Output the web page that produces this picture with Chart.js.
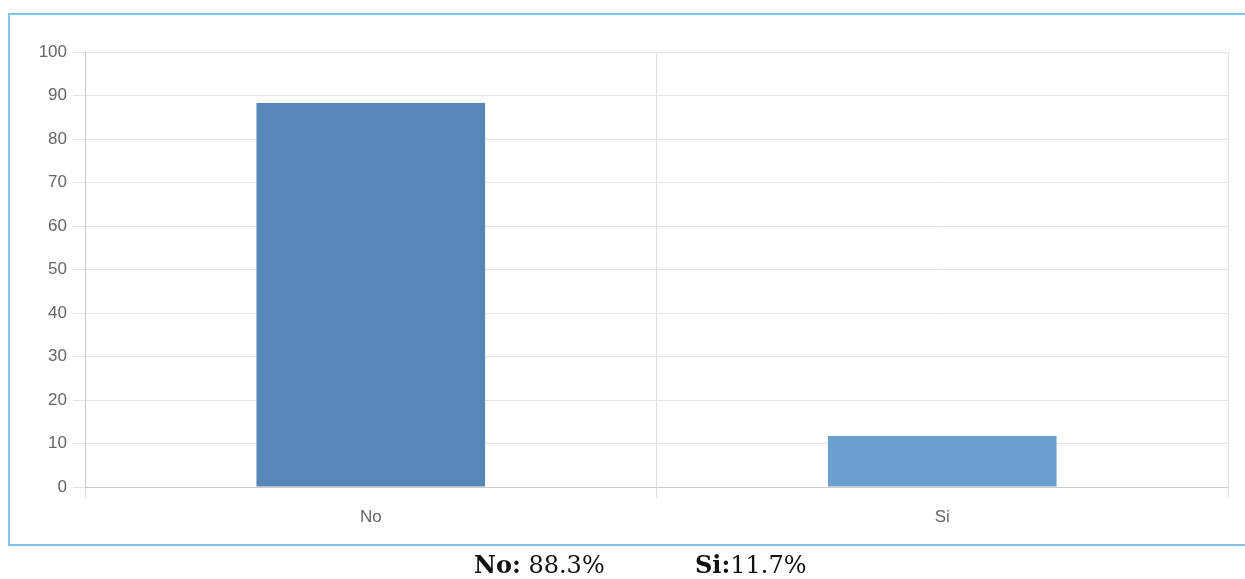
<!DOCTYPE html>
<html>
<head>
<meta charset="utf-8">
<script src="https://cdn.jsdelivr.net/npm/chart.js@4"></script>
<style>
    body { margin: 0; background: #fff; width: 1245px; height: 579px; overflow: hidden; position: relative; }
    .frame { position: absolute; left: 8px; top: 13px; width: 1260px; height: 529px; border: 2px solid #7fc5e6; }
    #chart { position: absolute; left: 0; top: 0; }
    .summary { position: absolute; top: 550px; font-family: 'DejaVu Serif', serif; font-size: 24px; color: #111; white-space: nowrap; }
    .summary b { font-weight: bold; }
</style>
</head>
<body>
<div class="frame"></div>
<canvas id="chart" width="1245" height="579"></canvas>
<div class="summary" style="left: 474px;"><b>No:</b> 88.3%</div>
<div class="summary" style="left: 695px;"><b>Si:</b>11.7%</div>
<script>
const categories = ['No', 'Si'];
const values = [88.3, 11.7];
const barColors = ['#5787b8', '#6ba0d0'];
const yTicks = [0, 10, 20, 30, 40, 50, 60, 70, 80, 90, 100];

document.addEventListener('DOMContentLoaded', function() {
    const ctx = document.getElementById('chart').getContext('2d');
    new Chart(ctx, {
        type: 'bar',
        data: {
            labels: categories,
            datasets: [{
                data: values,
                backgroundColor: barColors,
                borderColor: barColors,
                borderWidth: 0,
                categoryPercentage: 1,
                barPercentage: 0.4
            }]
        },
        options: {
            responsive: false,
            animation: false,
            layout: { padding: { top: 52, right: 17, left: 0, bottom: 0 } },
            plugins: { legend: { display: false }, tooltip: { enabled: false } },
            scales: {
                x: {
                    grid: { color: '#e0e0e0', tickLength: 11, offset: true },
                    border: { color: '#cacaca' },
                    ticks: { color: '#666', padding: 9, font: { family: 'Liberation Sans', size: 17 } },
                    afterFit: function(scale) { scale.height = 92; }
                },
                y: {
                    min: 0,
                    max: 100,
                    afterBuildTicks: function(scale) { scale.ticks = yTicks.map(v => ({ value: v })); },
                    grid: { color: '#e3e3e3', tickLength: 12 },
                    border: { color: '#cacaca' },
                    ticks: { color: '#666', padding: 6, font: { family: 'Liberation Sans', size: 17 } },
                    afterFit: function(scale) { scale.width = 85; }
                }
            }
        }
    });
});
</script>
</body>
</html>
